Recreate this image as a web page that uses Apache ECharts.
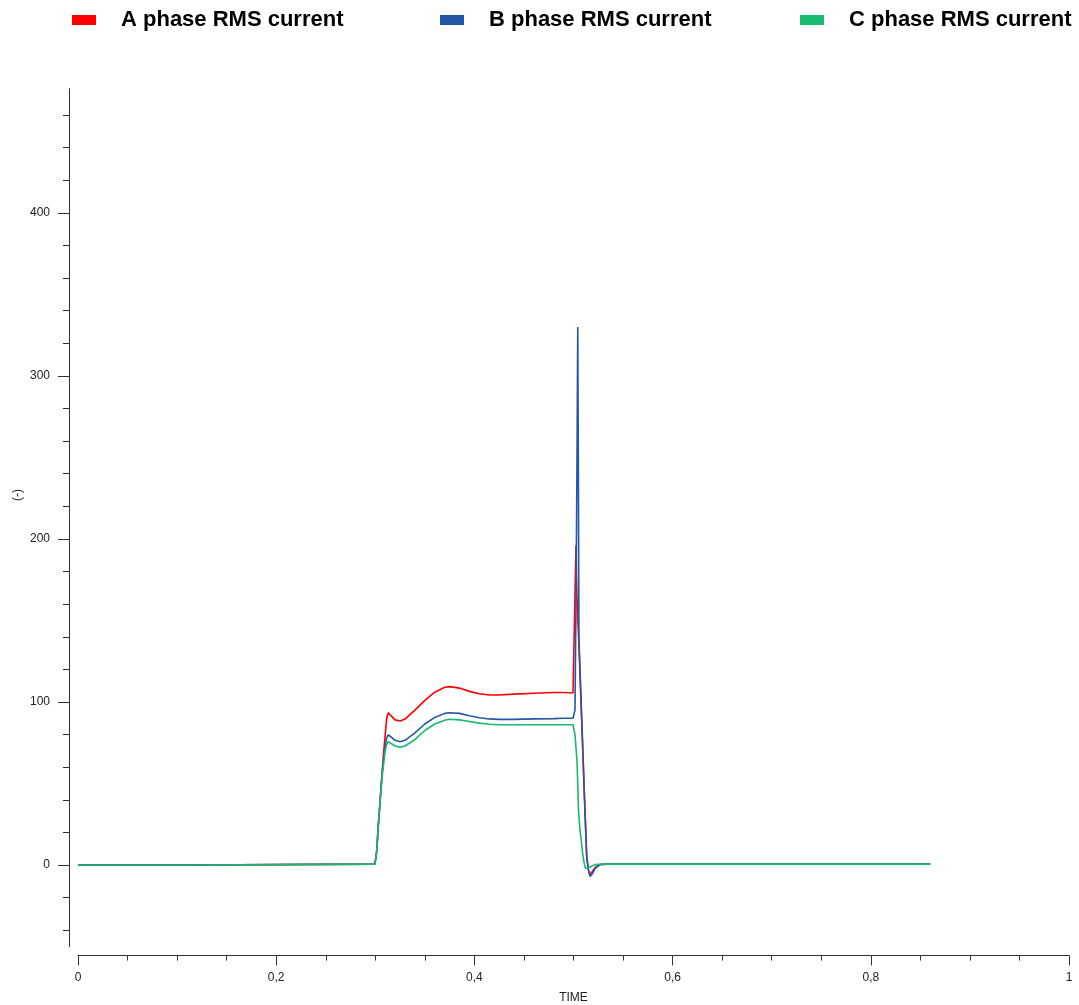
<!DOCTYPE html>
<html>
<head>
<meta charset="utf-8">
<script src="https://cdn.jsdelivr.net/npm/echarts@6/dist/echarts.min.js"></script>
<style>
html,body{margin:0;padding:0;background:#fff;}
#c{width:1079px;height:1005px;}
</style>
</head>
<body>
<div id="c"></div>
<script>
// ---- data ----
var time = [
  0, 0.1145, 0.1155, 0.2995,
  0.3005, 0.3015, 0.303, 0.3047, 0.3065, 0.308, 0.310, 0.3115, 0.313, 0.316,
  0.320, 0.325, 0.330, 0.340, 0.350, 0.360, 0.370, 0.375, 0.385, 0.395,
  0.405, 0.415, 0.425, 0.44, 0.46, 0.48, 0.49, 0.4995,
  0.5005, 0.5015, 0.5025, 0.5035, 0.5043, 0.505, 0.5055, 0.5065, 0.5075, 0.509,
  0.5105, 0.512, 0.5133, 0.515, 0.5166, 0.519, 0.522, 0.527, 0.535, 0.86
];
var phaseA = [
  0, 0, 0.5, 0.5,
  4, 9, 24, 38, 53, 66, 80, 90, 93.4, 91.5,
  89, 88.3, 89.5, 95, 101, 106, 109, 109.4, 108.5, 106.5,
  105, 104.3, 104.3, 104.8, 105.3, 105.8, 105.8, 105.5,
  105.3, 106, 196, 165, 150, 142, 135, 118, 101, 76,
  50, 26, 5, -3, -6, -4, -1.5, 0.3, 0.5, 0.5
];
var phaseB = [
  0, 0, 0.5, 0.5,
  4, 9, 24, 38, 53, 63, 73, 78, 79.8, 78.5,
  76.5, 75.6, 76.5, 81, 86.5, 90.5, 93, 93.4, 93, 91.5,
  90.3, 89.6, 89.3, 89.3, 89.6, 89.8, 90, 90,
  90, 95, 160, 245, 330, 230, 138, 121, 104, 78,
  52, 27, 6, -3, -7, -5.5, -2, 0.3, 0.5, 0.5
];
var phaseC = [
  0, 0, 0.5, 0.5,
  4, 9, 24, 38, 52, 60, 70, 74, 75.6, 74.5,
  73, 72.2, 73, 77, 82.5, 86.5, 88.8, 89.4, 89, 88,
  87, 86.3, 86, 86, 86, 86, 86, 86,
  86, 80, 72, 64, 50, 34, 30, 21.5, 17, 8,
  2, -2, -2.5, -2, -1, -0.5, 0.2, 0.4, 0.5, 0.5
];
var seriesNames = ['A phase RMS current', 'B phase RMS current', 'C phase RMS current'];
var seriesColors = ['#ff0000', '#2457a8', '#17ba6e'];
var yMajorTicks = [0, 100, 200, 300, 400];
var yMinorTicks = [-40, -20, 20, 40, 60, 80, 120, 140, 160, 180, 220, 240, 260, 280, 320, 340, 360, 380, 420, 440, 460];

function pairs(vals) { return time.map(function (t, i) { return [t, vals[i]]; }); }
var values = [phaseA, phaseB, phaseC];

var chart = echarts.init(document.getElementById('c'), null, {renderer: 'canvas'});
var axisCol = '#333';
var legendText = {fontFamily: 'Liberation Sans', fontWeight: 'bold', fontSize: 22, color: '#000', padding: [0, 0, 0, 20]};
var legendLefts = [72, 440, 800];

var option = {
  animation: false,
  backgroundColor: '#fff',
  legend: seriesNames.map(function (n, i) {
    return {
      data: [n], left: legendLefts[i], top: 9, padding: 0, icon: 'rect',
      itemWidth: 24, itemHeight: 10, textStyle: legendText, selectedMode: false
    };
  }),
  grid: {left: 78, right: 10, top: 89, bottom: 58.5, containLabel: false, outerBoundsMode: 'none'},
  xAxis: {
    type: 'value', min: 0, max: 1, interval: 0.2, offset: 9, position: 'bottom',
    name: 'TIME', nameLocation: 'middle', nameGap: 36,
    nameTextStyle: {fontFamily: 'Liberation Sans', fontSize: 12, color: '#222'},
    axisLine: {show: true, onZero: false, lineStyle: {color: axisCol, width: 1}},
    axisTick: {show: true, length: 10, lineStyle: {color: axisCol}},
    minorTick: {show: true, splitNumber: 4, length: 5, lineStyle: {color: axisCol}},
    splitLine: {show: false},
    axisLabel: {
      fontFamily: 'Liberation Sans', fontSize: 12, color: '#222', margin: 16,
      formatter: function (v) { return String(+v.toFixed(2)).replace('.', ','); }
    }
  },
  yAxis: [
    {
      type: 'value', min: -50, max: 476, position: 'left', offset: 9,
      axisLine: {show: true, onZero: false, lineStyle: {color: axisCol, width: 1}},
      axisTick: {show: true, length: 11, customValues: yMajorTicks, lineStyle: {color: axisCol}},
      axisLabel: {fontFamily: 'Liberation Sans', fontSize: 12, color: '#222', margin: 19, customValues: yMajorTicks},
      splitLine: {show: false}
    },
    {
      type: 'value', min: -50, max: 476, position: 'left', offset: 9,
      axisLine: {show: true, onZero: false, lineStyle: {color: axisCol, width: 1}},
      axisTick: {show: true, length: 6, customValues: yMinorTicks, lineStyle: {color: axisCol}},
      axisLabel: {show: false},
      splitLine: {show: false}
    }
  ],
  graphic: [{
    type: 'text', x: 18, y: 495, rotation: Math.PI / 2,
    style: {text: '(-)', fontFamily: 'Liberation Sans', fontSize: 12, fill: '#222', align: 'center', verticalAlign: 'middle'}
  }],
  series: seriesNames.map(function (n, i) {
    return {
      name: n, type: 'line', yAxisIndex: 0, data: pairs(values[i]),
      showSymbol: false, symbol: 'none',
      lineStyle: {color: seriesColors[i], width: 1.6},
      itemStyle: {color: seriesColors[i]},
      z: 2 + i
    };
  })
};
chart.setOption(option);
</script>
</body>
</html>
